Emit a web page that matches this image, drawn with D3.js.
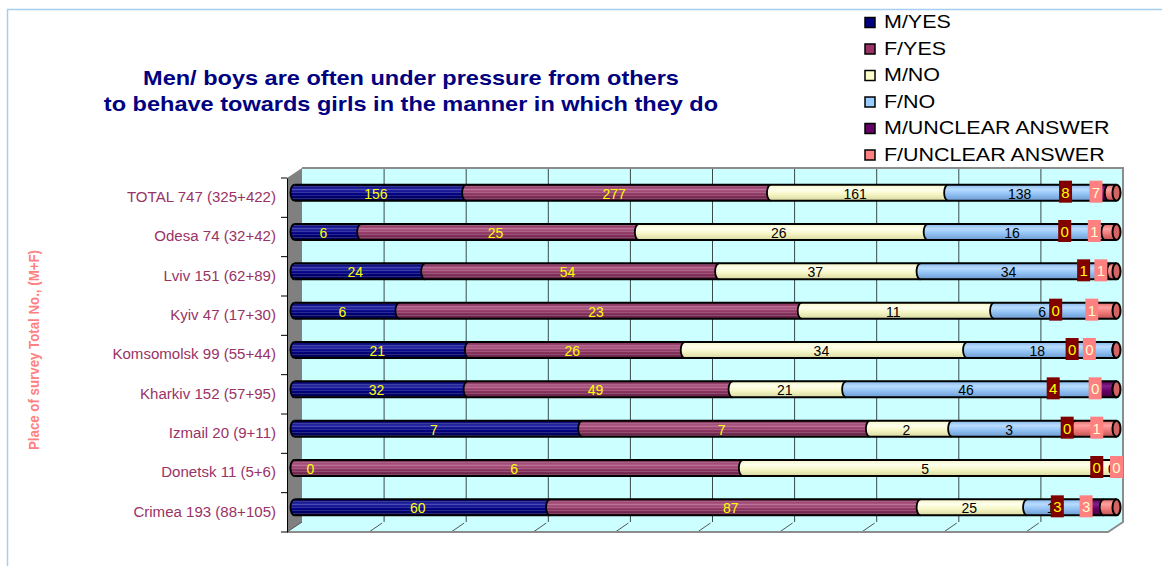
<!DOCTYPE html>
<html>
<head>
<meta charset="utf-8">
<script src="https://cdn.jsdelivr.net/npm/d3@7"></script>
<style>
  body { margin: 0; background: #fff; }
  text { font-family: Arial, "Liberation Sans", sans-serif; }
</style>
</head>
<body>
<svg id="chart" width="1162" height="566"></svg>
<script>
////// data //////
var categories = ["TOTAL 747 (325+422)", "Odesa 74 (32+42)", "Lviv 151 (62+89)", "Kyiv 47 (17+30)",
  "Komsomolsk 99 (55+44)", "Kharkiv 152 (57+95)", "Izmail 20 (9+11)", "Donetsk 11 (5+6)", "Crimea 193 (88+105)"];
var seriesNames = ["M/YES", "F/YES", "M/NO", "F/NO", "M/UNCLEAR ANSWER", "F/UNCLEAR ANSWER"];
var mYes      = [156,  6, 24,  6, 21, 32, 7, 0, 60];
var fYes      = [277, 25, 54, 23, 26, 49, 7, 6, 87];
var mNo       = [161, 26, 37, 11, 34, 21, 2, 5, 25];
var fNo       = [138, 16, 34,  6, 18, 46, 3, 0, 15];
var mUnclear  = [  8,  0,  1,  0,  0,  4, 0, 0,  3];
var fUnclear  = [  7,  1,  1,  1,  0,  0, 1, 0,  3];

// the two "unclear" labels were dragged by hand in the original; share of bar where each box sits
var unclearLabelAt = [[.938, .975], [.937, .973], [.960, .981], [.926, .970], [.946, .967],
  [.923, .974], [.940, .976], [.976, 1.0], [.928, .963]];

var colors = ["#000080", "#993366", "#FFFFCC", "#99CCFF", "#660066", "#FF8080"];
// cylinder shading: top, light band, middle, bottom
var shades = [
  ["#00006a", "#2a2aa6", "#000080", "#00004c"],
  ["#7a2a52", "#b05a86", "#8e3662", "#5e1c40"],
  ["#f4f4c4", "#ffffee", "#f6f6c6", "#d8d8a0"],
  ["#88b8ec", "#b8dcff", "#92c2f4", "#6c9cd0"],
  ["#4e004e", "#84208a", "#660066", "#3c003c"],
  ["#e46c6c", "#ffa0a0", "#f07a7a", "#c05454"]
];

var table = categories.map(function (c, i) {
  return { cat: c, s0: mYes[i], s1: fYes[i], s2: mNo[i], s3: fNo[i], s4: mUnclear[i], s5: fUnclear[i] };
});
var keys = ["s0", "s1", "s2", "s3", "s4", "s5"];
var stacked = d3.stack().keys(keys).offset(d3.stackOffsetExpand)(table);

var svg = d3.select("#chart");
var defs = svg.append("defs");

shades.forEach(function (s, i) {
  var g = defs.append("linearGradient").attr("id", "grad" + i)
    .attr("x1", 0).attr("y1", 0).attr("x2", 0).attr("y2", 1);
  g.append("stop").attr("offset", "0%").attr("stop-color", s[0]);
  g.append("stop").attr("offset", "30%").attr("stop-color", s[1]);
  g.append("stop").attr("offset", "60%").attr("stop-color", s[2]);
  g.append("stop").attr("offset", "100%").attr("stop-color", s[3]);
});
var pat = defs.append("pattern").attr("id", "stripes").attr("patternUnits", "userSpaceOnUse")
  .attr("width", 4).attr("height", 3);
pat.append("rect").attr("width", 4).attr("height", 1).attr("fill", "#fff").attr("fill-opacity", 0.16);

// stretch text horizontally (the original picture is wider than tall)
function stretch(sel, sx) {
  sel.each(function () {
    var w = this.getComputedTextLength();
    d3.select(this).attr("textLength", w * sx).attr("lengthAdjust", "spacingAndGlyphs");
  });
}

////// outer chart border //////
svg.append("path").attr("d", "M7.5,566 V9.5 H1162")
  .attr("fill", "none").attr("stroke", "#a6cdf2").attr("stroke-width", 1.5);

////// scales //////
var dx = 15, dy = -10;
var xFront = d3.scaleLinear().domain([0, 1]).range([287, 1108]);
var xBar = d3.scaleLinear().domain([0, 1]).range([294.5, 1116.5]);
var y = d3.scaleBand().domain(categories).range([178, 532]).padding(0);
var yTop = y.range()[0], yBot = y.range()[1];

////// walls //////
svg.append("rect").attr("x", xFront(0) + dx).attr("y", yTop + dy)
  .attr("width", xFront(1) - xFront(0)).attr("height", yBot - yTop)
  .attr("fill", "#CCFFFF");
svg.append("polygon")
  .attr("points", [[xFront(0), yBot], [xFront(0) + dx, yBot + dy], [xFront(1) + dx, yBot + dy], [xFront(1), yBot]].join(" "))
  .attr("fill", "#CCFFFF");
svg.append("polygon")
  .attr("points", [[xFront(0), yTop], [xFront(0) + dx, yTop + dy], [xFront(0) + dx, yBot + dy], [xFront(0), yBot]].join(" "))
  .attr("fill", "#808080");

var ticks = xFront.ticks(10);
svg.selectAll(".grid").data(ticks.slice(1, -1)).join("line")
  .attr("x1", d => xFront(d) + dx).attr("x2", d => xFront(d) + dx)
  .attr("y1", yTop + dy).attr("y2", yBot + dy)
  .attr("stroke", "#3a4a4a").attr("stroke-width", 1);
svg.selectAll(".floortick").data(ticks.slice(1, -1)).join("line")
  .attr("x1", d => xFront(d)).attr("x2", d => xFront(d) + dx - 2)
  .attr("y1", yBot).attr("y2", yBot + dy + 1)
  .attr("stroke", "#555").attr("stroke-width", 1);

// wall edges
svg.append("path")
  .attr("d", "M" + (xFront(0) + dx) + "," + (yTop + dy) + " H" + (xFront(1) + dx) + " V" + (yBot + dy) +
    " L" + xFront(1) + "," + yBot + " H" + xFront(0))
  .attr("fill", "none").attr("stroke", "#8c8c8c").attr("stroke-width", 2);
svg.append("line").attr("x1", xFront(0)).attr("x2", xFront(0) + dx)
  .attr("y1", yBot).attr("y2", yBot + dy).attr("stroke", "#555");

////// category axis //////
var yAxis = svg.append("g").attr("transform", "translate(" + xFront(0) + ",0)")
  .call(d3.axisLeft(y).tickSize(0).tickPadding(11));
yAxis.select(".domain").attr("stroke", "#000");
yAxis.selectAll("text").attr("fill", "#993366").attr("font-size", 14)
  .attr("font-family", "Arial, 'Liberation Sans', sans-serif");
stretch(yAxis.selectAll("text"), 1.075);
svg.selectAll(".cattick").data(d3.range(categories.length + 1)).join("line")
  .attr("x1", xFront(0) - 6).attr("x2", xFront(0))
  .attr("y1", i => yTop + i * y.bandwidth()).attr("y2", i => yTop + i * y.bandwidth())
  .attr("stroke", "#000");

////// bars (cylinders) //////
var rx = 4, ry = 8;
var bars = svg.append("g");
table.forEach(function (row, r) {
  var cy = y(row.cat) + y.bandwidth() / 2 - 5;
  var yt = cy - ry, yb = cy + ry;
  stacked.forEach(function (layer, i) {
    var a = xBar(layer[r][0]), b = xBar(layer[r][1]);
    var d = "M" + a + "," + yt + " A" + rx + "," + ry + " 0 0 0 " + a + "," + yb +
      " L" + b + "," + yb + " L" + b + "," + yt + " Z";
    bars.append("path").attr("d", d).attr("fill", "url(#grad" + i + ")");
    if (i < 2) bars.append("path").attr("d", d).attr("fill", "url(#stripes)");
    bars.append("path")
      .attr("d", "M" + a + "," + yt + " A" + rx + "," + ry + " 0 0 0 " + a + "," + yb)
      .attr("fill", "none").attr("stroke", "#000").attr("stroke-width", 1.8);
  });
  bars.append("path")
    .attr("d", "M" + xBar(0) + "," + yt + " H" + xBar(1) + " M" + xBar(0) + "," + yb + " H" + xBar(1))
    .attr("stroke", "#000").attr("stroke-width", 2);
  bars.append("ellipse").attr("cx", xBar(1)).attr("cy", cy).attr("rx", rx).attr("ry", ry)
    .attr("fill", "#d46464").attr("stroke", "#000").attr("stroke-width", 2);
});

////// value labels //////
var labels = svg.append("g").attr("font-size", 14).attr("text-anchor", "middle");
stacked.slice(0, 4).forEach(function (layer, i) {
  layer.forEach(function (d, r) {
    var cy = y(categories[r]) + y.bandwidth() / 2 - 5;
    var cx = Math.max(xBar((d[0] + d[1]) / 2) - 4.5, xBar(0) + 16);
    labels.append("text").attr("x", cx).attr("y", cy + 6)
      .attr("fill", i < 2 ? "#FFFF00" : "#000")
      .text(table[r][keys[i]]);
  });
});
[4, 5].forEach(function (i, k) {
  table.forEach(function (row, r) {
    var cy = y(row.cat) + y.bandwidth() / 2 - 5;
    var cx = xBar(unclearLabelAt[r][k]);
    labels.append("rect").attr("x", cx - 6.5).attr("y", cy - 12).attr("width", 13).attr("height", 22)
      .attr("fill", k == 0 ? "#800000" : "#FF8080");
    labels.append("text").attr("x", cx).attr("y", cy + 5).attr("font-size", 15)
      .attr("fill", k == 0 ? "#FFFF00" : "#FFFFCC")
      .text(row[keys[i]]);
  });
});

////// title //////
var title = svg.append("g").attr("font-size", 21).attr("font-weight", "bold")
  .attr("fill", "#000080").attr("text-anchor", "middle");
title.append("text").attr("x", 411).attr("y", 85).text("Men/ boys are often under pressure from others");
title.append("text").attr("x", 411).attr("y", 111).text("to behave towards girls in the manner in which they do");
stretch(title.selectAll("text"), 1.12);

////// axis title //////
svg.append("text").attr("transform", "translate(39,350) rotate(-90)")
  .attr("text-anchor", "middle").attr("font-size", 14).attr("font-weight", "bold").attr("fill", "#FF8080")
  .attr("textLength", 200).attr("lengthAdjust", "spacingAndGlyphs")
  .text("Place of survey Total No., (M+F)");

////// legend //////
var legend = svg.append("g").selectAll("g").data(seriesNames).join("g")
  .attr("transform", (d, i) => "translate(865," + (28 + i * 26.5) + ")");
legend.append("rect").attr("x", 0).attr("y", -10.5).attr("width", 10).attr("height", 10)
  .attr("fill", (d, i) => colors[i]).attr("stroke", "#000").attr("stroke-width", 1.5);
legend.append("text").attr("x", 19).attr("y", 0).attr("font-size", 19).attr("fill", "#000")
  .text(d => d);
stretch(legend.selectAll("text"), 1.13);
</script>
</body>
</html>
